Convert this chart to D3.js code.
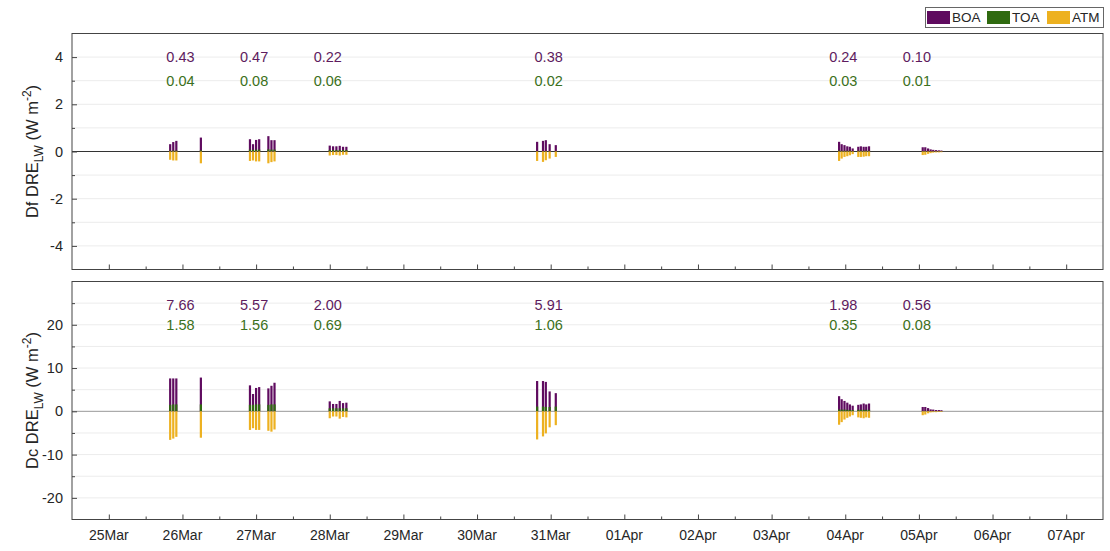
<!DOCTYPE html>
<html>
<head>
<meta charset="utf-8">
<script src="https://cdn.jsdelivr.net/npm/d3@7"></script>
<style>
  body { margin: 0; background: #fff; }
  svg text { font-family: "Liberation Sans", Arial, sans-serif; }
</style>
</head>
<body>
<div class="chart"></div>
<script>
// hourly sample times (UTC)
const times = [
  "2019-03-25T20:00","2019-03-25T21:00","2019-03-25T22:00","2019-03-26T06:00",
  "2019-03-26T22:00","2019-03-26T23:00","2019-03-27T00:00","2019-03-27T01:00",
  "2019-03-27T04:00","2019-03-27T05:00","2019-03-27T06:00",
  "2019-03-28T00:00","2019-03-28T01:05","2019-03-28T02:10","2019-03-28T03:15","2019-03-28T04:20","2019-03-28T05:25",
  "2019-03-30T19:35","2019-03-30T21:30","2019-03-30T22:25","2019-03-30T23:40","2019-03-31T01:40",
  "2019-04-03T22:00","2019-04-03T22:50","2019-04-03T23:45","2019-04-04T00:40","2019-04-04T01:30","2019-04-04T02:25",
  "2019-04-04T04:15","2019-04-04T05:05","2019-04-04T06:00","2019-04-04T06:50","2019-04-04T07:45",
  "2019-04-05T01:15","2019-04-05T02:05","2019-04-05T03:00","2019-04-05T03:50","2019-04-05T04:40","2019-04-05T05:35","2019-04-05T06:30","2019-04-05T07:20"
];

// Df panel
const dfBOA = [0.31,0.40,0.45,0.59, 0.52,0.31,0.49,0.52,0.65,0.48,0.48,
  0.25,0.22,0.22,0.24,0.20,0.20, 0.41,0.45,0.48,0.31,0.27,
  0.41,0.31,0.27,0.22,0.20,0.13,0.20,0.22,0.20,0.20,0.22,
  0.18,0.18,0.13,0.09,0.07,0.06,0.05,0.04];
const dfTOA = [0.03,0.04,0.04,0.05, 0.08,0.07,0.08,0.08,0.09,0.08,0.08,
  0.06,0.06,0.06,0.06,0.06,0.06, 0.02,0.02,0.02,0.02,0.02,
  0.04,0.03,0.03,0.03,0.03,0.02,0.03,0.03,0.03,0.03,0.03,
  0.02,0.02,0.01,0.01,0.01,0.01,0.01,0.01];
const dfATM = [-0.35,-0.38,-0.38,-0.50, -0.40,-0.38,-0.42,-0.42,-0.50,-0.45,-0.42,
  -0.17,-0.15,-0.15,-0.17,-0.14,-0.14, -0.40,-0.44,-0.37,-0.30,-0.23,
  -0.40,-0.30,-0.23,-0.20,-0.16,-0.11,-0.23,-0.23,-0.22,-0.20,-0.20,
  -0.15,-0.14,-0.10,-0.07,-0.05,-0.04,-0.04,-0.03];

// Dc panel
const dcBOA = [7.6,7.6,7.6,7.8, 6.0,4.0,5.4,5.6,5.3,5.9,6.6,
  2.3,1.7,1.7,2.4,1.9,2.0, 7.0,7.0,6.8,4.6,4.2,
  3.5,2.8,2.4,2.0,1.6,1.3,1.5,1.6,1.8,1.6,1.8,
  1.0,1.0,0.75,0.45,0.4,0.3,0.3,0.25];
const dcTOA = [1.5,1.6,1.6,1.6, 1.5,1.5,1.6,1.6,1.5,1.6,1.6,
  0.7,0.7,0.7,0.7,0.7,0.7, 1.1,1.1,1.0,1.0,1.1,
  0.4,0.4,0.4,0.35,0.3,0.3,0.35,0.35,0.35,0.35,0.35,
  0.1,0.1,0.1,0.08,0.08,0.06,0.06,0.06];
const dcATM = [-6.6,-6.3,-5.9,-6.1, -4.3,-3.9,-4.3,-4.3,-4.5,-4.7,-4.2,
  -1.6,-1.2,-1.2,-1.7,-1.3,-1.4, -6.5,-5.8,-5.1,-3.7,-3.2,
  -3.1,-2.5,-1.9,-1.5,-1.2,-0.9,-1.4,-1.5,-1.6,-1.4,-1.5,
  -0.9,-0.75,-0.45,-0.25,-0.2,-0.2,-0.15,-0.15];

// daily means written above the bars
const meanDays = ["2019-03-26","2019-03-27","2019-03-28","2019-03-31","2019-04-04","2019-04-05"];
const dfBOAMean = ["0.43","0.47","0.22","0.38","0.24","0.10"];
const dfTOAMean = ["0.04","0.08","0.06","0.02","0.03","0.01"];
const dcBOAMean = ["7.66","5.57","2.00","5.91","1.98","0.56"];
const dcTOAMean = ["1.58","1.56","0.69","1.06","0.35","0.08"];

const seriesNames = ["BOA", "TOA", "ATM"];
const colors = { BOA: "#5f0b5f", TOA: "#2f6a10", ATM: "#edb120" };
const textColors = { BOA: "#5e1b5e", TOA: "#3b7020" };

const W = 1110, H = 551;
const margin = { l: 72, r: 8 };
const parseT = d3.utcParse("%Y-%m-%dT%H:%M");
const parseD = d3.utcParse("%Y-%m-%d");

const svg = d3.select(".chart").append("svg")
  .attr("width", W).attr("height", H);

const x = d3.scaleUtc()
  .domain([parseT("2019-03-24T12:00"), parseT("2019-04-07T12:00")])
  .range([margin.l, W - 7]);

const panels = [
  { top: 33.5, bottom: 269.5, domain: [-5, 5], major: 2, minor: 1,
    boa: dfBOA, toa: dfTOA, atm: dfATM, mBoa: dfBOAMean, mToa: dfTOAMean,
    yBoa: 4, yToa: 3, label: "Df", zero: "#333" },
  { top: 281.5, bottom: 519.5, domain: [-25, 30], major: 10, minor: 5,
    boa: dcBOA, toa: dcTOA, atm: dcATM, mBoa: dcBOAMean, mToa: dcTOAMean,
    yBoa: 24.5, yToa: 20, label: "Dc", zero: "#999", xLabels: true }
];

const barW = 2.2;

panels.forEach(p => {
  const g = svg.append("g");
  const y = d3.scaleLinear().domain(p.domain).range([p.bottom, p.top]);
  const x0 = x.range()[0], x1 = x.range()[1];

  // tick values as multiples of the step, inside the box
  const steps = step => d3.range(Math.ceil(p.domain[0] / step) * step, p.domain[1] + 0.001, step)
    .filter(v => v > p.domain[0] && v < p.domain[1]);
  const majorVals = steps(p.major);
  const minorVals = steps(p.minor).filter(v => Math.abs(v % p.major) > 1e-9);
  const gridVals = steps(p.minor).filter(v => v !== 0);

  // horizontal grid (major + minor)
  g.selectAll(".grid").data(gridVals).join("line")
    .attr("x1", x0).attr("x2", x1)
    .attr("y1", d => y(d)).attr("y2", d => y(d))
    .attr("stroke", "#ececec").attr("stroke-width", 1);

  // zero line
  g.append("line")
    .attr("x1", x0).attr("x2", x1)
    .attr("y1", y(0)).attr("y2", y(0))
    .attr("stroke", p.zero).attr("stroke-width", 1);

  const rows = times.map((t, i) => ({
    t: parseT(t), BOA: p.boa[i], TOA: p.toa[i], ATM: p.atm[i]
  }));

  // overlapping bars: BOA, then TOA, then ATM
  seriesNames.forEach(s => {
    g.selectAll(".bar-" + s).data(rows).join("rect")
      .attr("x", d => x(d.t) - barW / 2)
      .attr("width", barW)
      .attr("y", d => y(Math.max(0, d[s])))
      .attr("height", d => Math.abs(y(d[s]) - y(0)))
      .attr("fill", colors[s]);
  });

  // daily mean annotations
  meanDays.forEach((d, i) => {
    g.append("text")
      .attr("x", x(parseD(d)) - 2).attr("y", y(p.yBoa))
      .attr("dy", "0.35em").attr("text-anchor", "middle")
      .attr("font-size", 14.5).attr("fill", textColors.BOA)
      .text(p.mBoa[i]);
    g.append("text")
      .attr("x", x(parseD(d)) - 2).attr("y", y(p.yToa))
      .attr("dy", "0.35em").attr("text-anchor", "middle")
      .attr("font-size", 14.5).attr("fill", textColors.TOA)
      .text(p.mToa[i]);
  });

  // box
  g.append("rect")
    .attr("x", x0).attr("y", p.top)
    .attr("width", x1 - x0).attr("height", p.bottom - p.top)
    .attr("fill", "none").attr("stroke", "#444").attr("stroke-width", 1);

  // y axis, ticks inside
  g.append("g").attr("transform", "translate(" + x0 + ",0)")
    .call(d3.axisRight(y).tickValues(majorVals).tickSize(5).tickFormat(""))
    .call(a => a.select(".domain").remove())
    .selectAll("line").attr("stroke", "#444");
  g.append("g").attr("transform", "translate(" + x0 + ",0)")
    .call(d3.axisRight(y).tickValues(minorVals).tickSize(3).tickFormat(""))
    .call(a => a.select(".domain").remove())
    .selectAll("line").attr("stroke", "#444");

  g.selectAll(".ylab").data(majorVals).join("text")
    .attr("x", x0 - 9).attr("y", d => y(d)).attr("dy", "0.35em")
    .attr("text-anchor", "end").attr("font-size", 14.5).attr("fill", "#262626")
    .text(d => d);

  // x ticks inside bottom
  const days = d3.utcDay.range(parseD("2019-03-25"), parseT("2019-04-07T01:00"));
  const halfDays = d3.utcHour.every(12).range(x.domain()[0], x.domain()[1])
    .filter(d => d.getUTCHours() === 12);
  g.append("g").attr("transform", "translate(0," + p.bottom + ")")
    .call(d3.axisTop(x).tickValues(days).tickSize(5).tickFormat(""))
    .call(a => a.select(".domain").remove())
    .selectAll("line").attr("stroke", "#444");
  g.append("g").attr("transform", "translate(0," + p.bottom + ")")
    .call(d3.axisTop(x).tickValues(halfDays.slice(1)).tickSize(3).tickFormat(""))
    .call(a => a.select(".domain").remove())
    .selectAll("line").attr("stroke", "#444");

  if (p.xLabels) {
    g.selectAll(".xlab").data(days).join("text")
      .attr("x", d => x(d)).attr("y", p.bottom + 16).attr("dy", "0.35em")
      .attr("text-anchor", "middle").attr("font-size", 14).attr("fill", "#262626")
      .text(d3.utcFormat("%d%b"));
  }

  // y label with sub/superscript
  const cy = (p.top + p.bottom) / 2;
  const lab = g.append("text")
    .attr("transform", "translate(38," + cy + ") rotate(-90)")
    .attr("text-anchor", "middle").attr("font-size", 16.5).attr("fill", "#262626");
  lab.append("tspan").text(p.label + " DRE");
  lab.append("tspan").attr("font-size", 12).attr("dy", 5).text("LW");
  lab.append("tspan").attr("dy", -5).text(" (W m");
  lab.append("tspan").attr("font-size", 12).attr("dy", -7).text("-2");
  lab.append("tspan").attr("dy", 7).text(")");
});

// legend
const leg = svg.append("g");
leg.append("rect")
  .attr("x", 925.5).attr("y", 7.5).attr("width", 178).attr("height", 20)
  .attr("fill", "#fff").attr("stroke", "#666").attr("stroke-width", 1);
const legX = [927, 987, 1047];
seriesNames.forEach((s, i) => {
  leg.append("rect")
    .attr("x", legX[i]).attr("y", 11).attr("width", 23).attr("height", 13)
    .attr("fill", colors[s]);
  leg.append("text")
    .attr("x", legX[i] + 25).attr("y", 17.5).attr("dy", "0.35em")
    .attr("font-size", 13.5).attr("fill", "#262626")
    .text(s);
});
</script>
</body>
</html>
